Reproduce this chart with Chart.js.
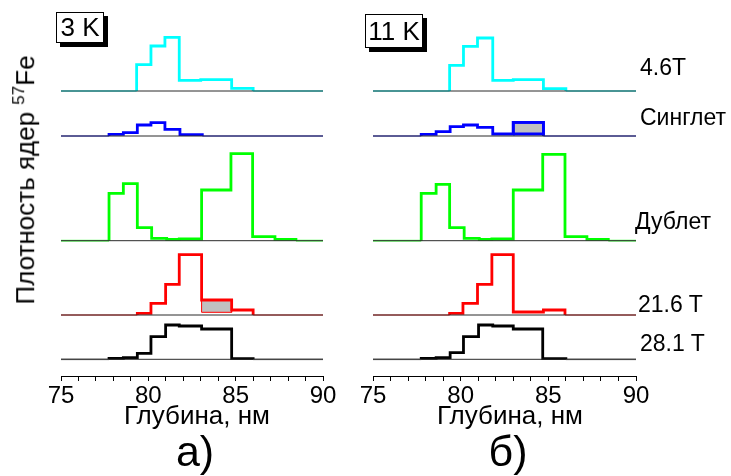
<!DOCTYPE html>
<html>
<head>
<meta charset="utf-8">
<script src="https://cdn.jsdelivr.net/npm/chart.js@4/dist/chart.umd.min.js"></script>
<style>
body{margin:0;background:#fff;width:731px;height:476px;position:relative;overflow:hidden;font-family:Arial,"Liberation Sans",sans-serif;color:#000}
.cv{position:absolute;top:0;height:476px}
.t{position:absolute;white-space:nowrap;transform:translate(-50%,-50%)}
.lab{position:absolute;white-space:nowrap;font-size:23px;left:640px}
.box{position:absolute;box-sizing:border-box;border:1px solid #000;background:#fff;box-shadow:4px 4px 0 #000;font-size:26px;text-align:center}
</style>
</head>
<body>
<div class="cv" style="left:0;width:348px"><canvas id="gA"></canvas></div>
<div class="cv" style="left:348px;width:383px"><canvas id="gB"></canvas></div>

<div class="box" style="left:56px;top:12px;width:48px;height:31px;line-height:29px">3 K</div>
<div class="box" style="left:365px;top:14px;width:58px;height:34px;line-height:32px">11 K</div>

<div class="t" style="left:25px;top:180px;font-size:26px;transform:translate(-50%,-50%) rotate(-90deg)">Плотность ядер <sup style="font-size:17px">57</sup>Fe</div>

<div class="t" style="left:197px;top:415px;font-size:26px">Глубина, нм</div>
<div class="t" style="left:510px;top:415px;font-size:26px">Глубина, нм</div>
<div class="t" style="left:195px;top:451px;font-size:43px">а)</div>
<div class="t" style="left:508px;top:451px;font-size:43px">б)</div>

<div class="lab" style="top:54px">4.6T</div>
<div class="lab" style="top:104px">Синглет</div>
<div class="lab" style="top:208px;left:635px">Дублет</div>
<div class="lab" style="top:291px;left:638px">21.6 T</div>
<div class="lab" style="top:330px">28.1 T</div>

<script>
// 3 K
let cyanA_x=[75,79.33,80.15,80.95,81.77,83.0,84.77,86.0,90]
let cyanA=[0,26.3,45,53.7,10.7,11.3,2.7,0]
let blueA_x=[75,77.75,78.57,79.37,80.15,80.95,81.81,83.09,90]
let blueA=[0,1.7,3.3,11,13.3,6.7,1.3,0]
let greenA_x=[75,77.75,78.57,79.37,80.19,81.05,81.77,83.05,84.73,85.97,87.25,88.45,90]
let greenA=[0,47.3,57,13,2.3,1.3,1.7,50.7,87,4,1.3,0]
let redA_x=[75,79.37,80.15,80.99,81.77,83.05,84.77,86.0,90]
let redA=[0,1.7,11.7,30.7,60.3,15,5,0]
let blackA_x=[75,77.75,78.57,79.37,80.15,80.99,81.77,83.05,84.77,86.0,90]
let blackA=[0,1,1.7,6,22.7,34.3,33.3,30.3,0.7,0]
let boxA_x=[83.05,84.77]
let boxA_y=[2.7,15]

// 11 K
let cyanB_x=[75,79.37,80.16,80.96,81.83,83.0,84.72,86.0,90]
let cyanB=[0,25.7,44.7,53,10.7,11.3,2.3,0]
let blueB_x=[75,77.75,78.6,79.4,80.16,80.96,81.83,83.0,84.72,90]
let blueB=[0,1.7,4.3,9.3,11,8.7,2,13.7,0]
let greenB_x=[75,77.75,78.6,79.37,80.2,81.06,81.78,83.0,84.68,85.95,87.2,88.42,90]
let greenB=[0,47.3,56.3,13,2.3,1.3,1.7,50.7,86.3,4,1.3,0]
let redB_x=[75,79.37,80.13,80.96,81.78,83.0,84.72,85.95,90]
let redB=[0,1.7,11.7,30.7,60.3,3,5,0]
let blackB_x=[75,77.75,78.6,79.4,80.16,81.02,81.83,83.0,84.68,86.0,90]
let blackB=[0,1,1.7,6.7,22.7,34.3,33.3,30.3,0.7,0]
let boxB_x=[83.0,84.72]
let boxB_y=[2,13.7]

// vertical shift of each curve (cyan, blue, green, red, black)
let sdvig=[285,240,135.3,61,16.7]
let cores=["#00ffff","#0000ff","#00ff00","#ff0000","#000000"]
let coresFracas=["rgba(0,255,255,0.6)","rgba(0,0,255,0.45)","rgba(0,255,0,0.6)","rgba(255,0,0,0.45)","rgba(0,0,0,0.3)"]

function degraus(xs,vs,off){
let pts=[]
for(let k=0;k<vs.length;k++){
pts.push({x:xs[k],y:off+vs[k]})
pts.push({x:xs[k+1],y:off+vs[k]})
}
return pts
}

function caixa(bx,by,off){
return [{x:bx[0],y:off+by[0]},{x:bx[0],y:off+by[1]},{x:bx[1],y:off+by[1]},{x:bx[1],y:off+by[0]},{x:bx[0],y:off+by[0]}]
}

function grafico(id,series,caixaDados,padL,padR){
let ds=[]
sdvig.forEach(o=>{
ds.push({data:[{x:75,y:o},{x:90,y:o}],borderColor:"#2a2a2a",borderWidth:1,pointRadius:0})
})
series.forEach((s,i)=>{
let off=sdvig[i]
ds.push({
data:degraus(s[0],s[1],off),
borderColor:cores[i],borderWidth:2.8,pointRadius:0,
segment:{
borderWidth:c=>(c.p0.parsed.y===off&&c.p1.parsed.y===off)?2:2.8,
borderColor:c=>(c.p0.parsed.y===off&&c.p1.parsed.y===off)?coresFracas[i]:cores[i]
}
})
})
let cx=caixaDados
ds.push({data:caixa(cx.x,cx.y,sdvig[cx.serie]),borderColor:cores[cx.serie],borderWidth:cx.w,backgroundColor:"#c0c0c0",fill:"shape",pointRadius:0})

new Chart(document.getElementById(id),{
type:"line",
data:{datasets:ds},
options:{
responsive:true,maintainAspectRatio:false,animation:false,events:[],
layout:{padding:{left:padL,right:padR,top:26,bottom:0}},
plugins:{legend:{display:false},tooltip:{enabled:false}},
scales:{
x:{type:"linear",min:75,max:90,
afterFit:s=>{s.height=100},
border:{display:true,color:"#000",width:1},
grid:{drawOnChartArea:false,drawTicks:true,tickLength:5,color:"#000"},
ticks:{stepSize:1,autoSkip:false,maxRotation:0,padding:1,color:"#000",
font:{family:"Arial, 'Liberation Sans', sans-serif",size:24},
callback:v=>v%5===0?v:""}
},
y:{display:false,min:0,max:350}
}
}
})
}

grafico("gA",[[cyanA_x,cyanA],[blueA_x,blueA],[greenA_x,greenA],[redA_x,redA],[blackA_x,blackA]],{x:boxA_x,y:boxA_y,serie:3,w:1},61,25)
grafico("gB",[[cyanB_x,cyanB],[blueB_x,blueB],[greenB_x,greenB],[redB_x,redB],[blackB_x,blackB]],{x:boxB_x,y:boxB_y,serie:1,w:2.8},25,95)
</script>
</body>
</html>
